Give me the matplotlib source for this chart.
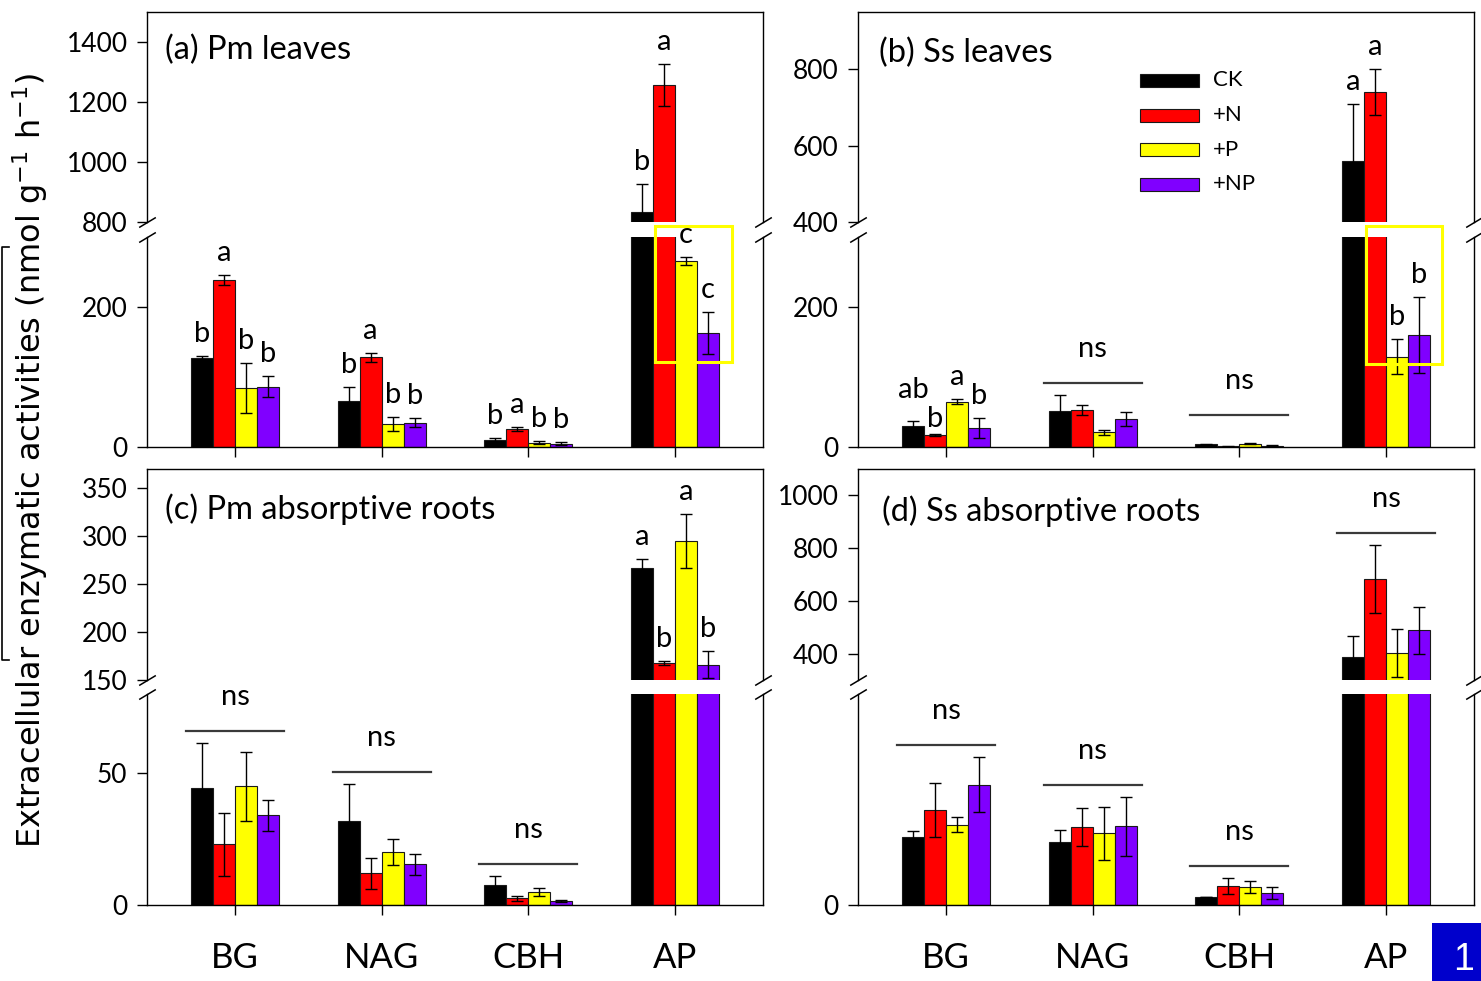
import matplotlib
matplotlib.use("Agg")
import matplotlib.pyplot as plt
import numpy as np
from matplotlib.patches import Rectangle
from matplotlib.lines import Line2D
from matplotlib.transforms import offset_copy

plt.rcParams['font.family'] = ['Lato', 'DejaVu Sans']

enzymes = ['BG', 'NAG', 'CBH', 'AP']
treatments = ['CK', '+N', '+P', '+NP']
colors = ['#000000', '#FF0000', '#FFFF00', '#8000FF']

# Means and standard errors: one row per treatment (CK, +N, +P, +NP),
# one column per enzyme (BG, NAG, CBH, AP)
pm_leaves_mean = [[127, 66, 10, 833], [239, 128, 26, 1257], [84, 33, 6, 266], [86, 35, 5, 163]]
pm_leaves_se = [[3, 20, 3, 93], [7, 6, 2.5, 70], [36, 10, 2, 6], [15, 6, 1.5, 30]]
ss_leaves_mean = [[30, 52, 4, 560], [17, 53, 1, 740], [65, 21, 5, 129], [27, 40, 2, 160]]
ss_leaves_se = [[7, 22, 1, 148], [1, 7, 0.5, 60], [3, 4, 1, 25], [14, 10, 0.5, 54]]
pm_roots_mean = [[44.3, 32, 7.6, 267], [23, 12, 2.6, 168], [45, 20, 4.9, 295], [34, 15.5, 1.6, 166]]
pm_roots_se = [[17, 14, 3.5, 9], [12, 6, 1, 2], [13, 5, 1.5, 28], [6, 4, 0.3, 14]]
ss_roots_mean = [[32, 30, 3.8, 389], [45, 37, 9, 683], [38, 34, 8.5, 404], [57, 37.4, 5.7, 488]]
ss_roots_se = [[3, 5.5, 0, 76], [13, 9, 4, 130], [3.5, 12.5, 3, 91], [13, 14, 3, 88]]

# Significance letters per enzyme (CK, +N, +P, +NP) or 'ns'
pm_leaves_letters = [['b', 'a', 'b', 'b'], ['b', 'a', 'b', 'b'], ['b', 'a', 'b', 'b'], ['b', 'a', 'c', 'c']]
ss_leaves_letters = [['ab', 'b', 'a', 'b'], 'ns', 'ns', ['a', 'a', 'b', 'b']]
pm_roots_letters = ['ns', 'ns', 'ns', ['a', 'b', 'a', 'b']]
ss_roots_letters = ['ns', 'ns', 'ns', 'ns']

W, H = 1481, 981
fig = plt.figure(figsize=(W / 100, H / 100), dpi=100)


def px_axes(x0, x1, y0, y1):
    return fig.add_axes([x0 / W, 1 - y1 / H, (x1 - x0) / W, (y1 - y0) / H])


offsets = [-0.225, -0.075, 0.075, 0.225]
bar_w = 0.15
xpos = np.arange(1, 5)


def style_pair(ax_t, ax_b, show_xlabels):
    for ax in (ax_t, ax_b):
        ax.set_xlim(0.4, 4.6)
        ax.tick_params(axis='y', direction='out', length=7, width=1, labelsize=19, pad=7)
        for s in ax.spines.values():
            s.set_linewidth(1.0)
    ax_t.spines['bottom'].set_visible(False)
    ax_t.set_xticks([])
    ax_b.spines['top'].set_visible(False)
    ax_b.set_xticks(xpos)
    ax_b.tick_params(axis='x', direction='out', length=7, width=1, labelsize=25, pad=20)
    if show_xlabels:
        ax_b.set_xticklabels(enzymes)
    else:
        ax_b.set_xticklabels([])
    d = 0.6
    kw = dict(marker=[(-1, -d), (1, d)], markersize=12, linestyle='none',
              color='k', mec='k', mew=1.1, clip_on=False, zorder=5)
    ax_t.plot([0, 1], [0, 0], transform=ax_t.transAxes, **kw)
    ax_b.plot([0, 1], [1, 1], transform=ax_b.transAxes, **kw)


def draw_panel(ax_t, ax_b, means, ses, letters, nudges=None, ns_nudges=None):
    nudges = nudges or {}
    ns_nudges = ns_nudges or {}
    for ax in (ax_t, ax_b):
        for i in range(4):
            ax.bar(xpos + offsets[i], means[i], width=bar_w, color=colors[i],
                   edgecolor='#1a1a1a', linewidth=0.8, zorder=2)
            ax.errorbar(xpos + offsets[i], means[i], yerr=ses[i], fmt='none',
                        ecolor='black', elinewidth=1, capsize=4, capthick=1, zorder=3)
    bot_top = ax_b.get_ylim()[1]
    for j, lab in enumerate(letters):
        tops = [means[i][j] + ses[i][j] for i in range(4)]
        if lab == 'ns':
            peak = max(tops)
            ax = ax_t if peak > bot_top else ax_b
            extra = ns_nudges.get(j, 0)
            tl = offset_copy(ax.transData, fig=fig, y=12 + extra, units='dots')
            ax.plot([xpos[j] - 0.335, xpos[j] + 0.335], [peak, peak], color='#3a3a3a',
                    lw=1.6, transform=tl, clip_on=False, zorder=4)
            tt = offset_copy(ax.transData, fig=fig, y=46 + extra, units='dots')
            ax.text(xpos[j], peak, 'ns', ha='center', va='center', fontsize=21,
                    transform=tt, clip_on=False)
        else:
            for i in range(4):
                ax = ax_t if tops[i] > bot_top else ax_b
                dy = 22 + nudges.get((j, i), 0)
                tt = offset_copy(ax.transData, fig=fig, y=dy, units='dots')
                ax.text(xpos[j] + offsets[i], tops[i], lab[i], ha='center', va='center',
                        fontsize=21, transform=tt, clip_on=False, zorder=4)


# (a) Pm leaves
a_t = px_axes(147, 763, 12, 222)
a_b = px_axes(147, 763, 237, 447)
a_t.set_ylim(800, 1500); a_t.set_yticks([800, 1000, 1200, 1400])
a_b.set_ylim(0, 300); a_b.set_yticks([0, 200])
style_pair(a_t, a_b, False)
draw_panel(a_t, a_b, pm_leaves_mean, pm_leaves_se, pm_leaves_letters)
a_t.text(0.029, 0.82, '(a) Pm leaves', transform=a_t.transAxes, fontsize=23.5, va='center')
a_b.add_patch(Rectangle((3.862, 121), 0.524, 195, fill=False, edgecolor='#FFFF00',
                        lw=2.2, clip_on=False, zorder=6))

# (b) Ss leaves
b_t = px_axes(858, 1474, 12, 222)
b_b = px_axes(858, 1474, 237, 447)
b_t.set_ylim(400, 950); b_t.set_yticks([400, 600, 800])
b_b.set_ylim(0, 300); b_b.set_yticks([0, 200])
style_pair(b_t, b_b, False)
draw_panel(b_t, b_b, ss_leaves_mean, ss_leaves_se, ss_leaves_letters,
           nudges={(0, 0): 9, (0, 1): -7}, ns_nudges={2: 16})
b_t.text(0.034, 0.805, '(b) Ss leaves', transform=b_t.transAxes, fontsize=23.5, va='center')
b_b.add_patch(Rectangle((3.862, 119), 0.517, 197, fill=False, edgecolor='#FFFF00',
                        lw=2.2, clip_on=False, zorder=6))

# legend
for i, name in enumerate(treatments):
    yc = 0.674 - i * 0.165
    b_t.add_patch(Rectangle((0.4585, yc - 0.031), 0.0943, 0.062, transform=b_t.transAxes,
                            facecolor=colors[i], edgecolor='#1a1a1a', lw=0.8))
    b_t.text(0.5756, yc, name, transform=b_t.transAxes, fontsize=16, va='center')

# (c) Pm absorptive roots
c_t = px_axes(147, 763, 469, 680)
c_b = px_axes(147, 763, 694, 905)
c_t.set_ylim(150, 370); c_t.set_yticks([150, 200, 250, 300, 350])
c_b.set_ylim(0, 80); c_b.set_yticks([0, 50])
style_pair(c_t, c_b, True)
draw_panel(c_t, c_b, pm_roots_mean, pm_roots_se, pm_roots_letters)
c_t.text(0.029, 0.81, '(c) Pm absorptive roots', transform=c_t.transAxes, fontsize=23.5, va='center')

# (d) Ss absorptive roots
d_t = px_axes(858, 1474, 469, 680)
d_b = px_axes(858, 1474, 694, 905)
d_t.set_ylim(300, 1100); d_t.set_yticks([400, 600, 800, 1000])
d_b.set_ylim(0, 100); d_b.set_yticks([0])
style_pair(d_t, d_b, True)
draw_panel(d_t, d_b, ss_roots_mean, ss_roots_se, ss_roots_letters)
d_t.text(0.039, 0.80, '(d) Ss absorptive roots', transform=d_t.transAxes, fontsize=23.5, va='center')

# shared y label
fig.text(30 / W, 1 - 460 / H, r'Extracellular enzymatic activities (nmol g$^{-1}$ h$^{-1}$)',
         rotation=90, ha='center', va='center', fontsize=23, family='DejaVu Sans')
fig.add_artist(Line2D([9 / W, 2 / W, 2 / W, 9 / W],
                      [1 - 247 / H, 1 - 247 / H, 1 - 660 / H, 1 - 660 / H],
                      transform=fig.transFigure, color='black', lw=1.2))

# page badge
fig.add_artist(Rectangle((1432 / W, 0), 49 / W, 58 / H, transform=fig.transFigure,
                         facecolor='#0000CC', edgecolor='none'))
fig.text(1464 / W, 3 / H, '1', color='white', fontsize=27, ha='center', va='bottom',
         family='Liberation Sans')

fig.savefig('out.png', dpi=100)
